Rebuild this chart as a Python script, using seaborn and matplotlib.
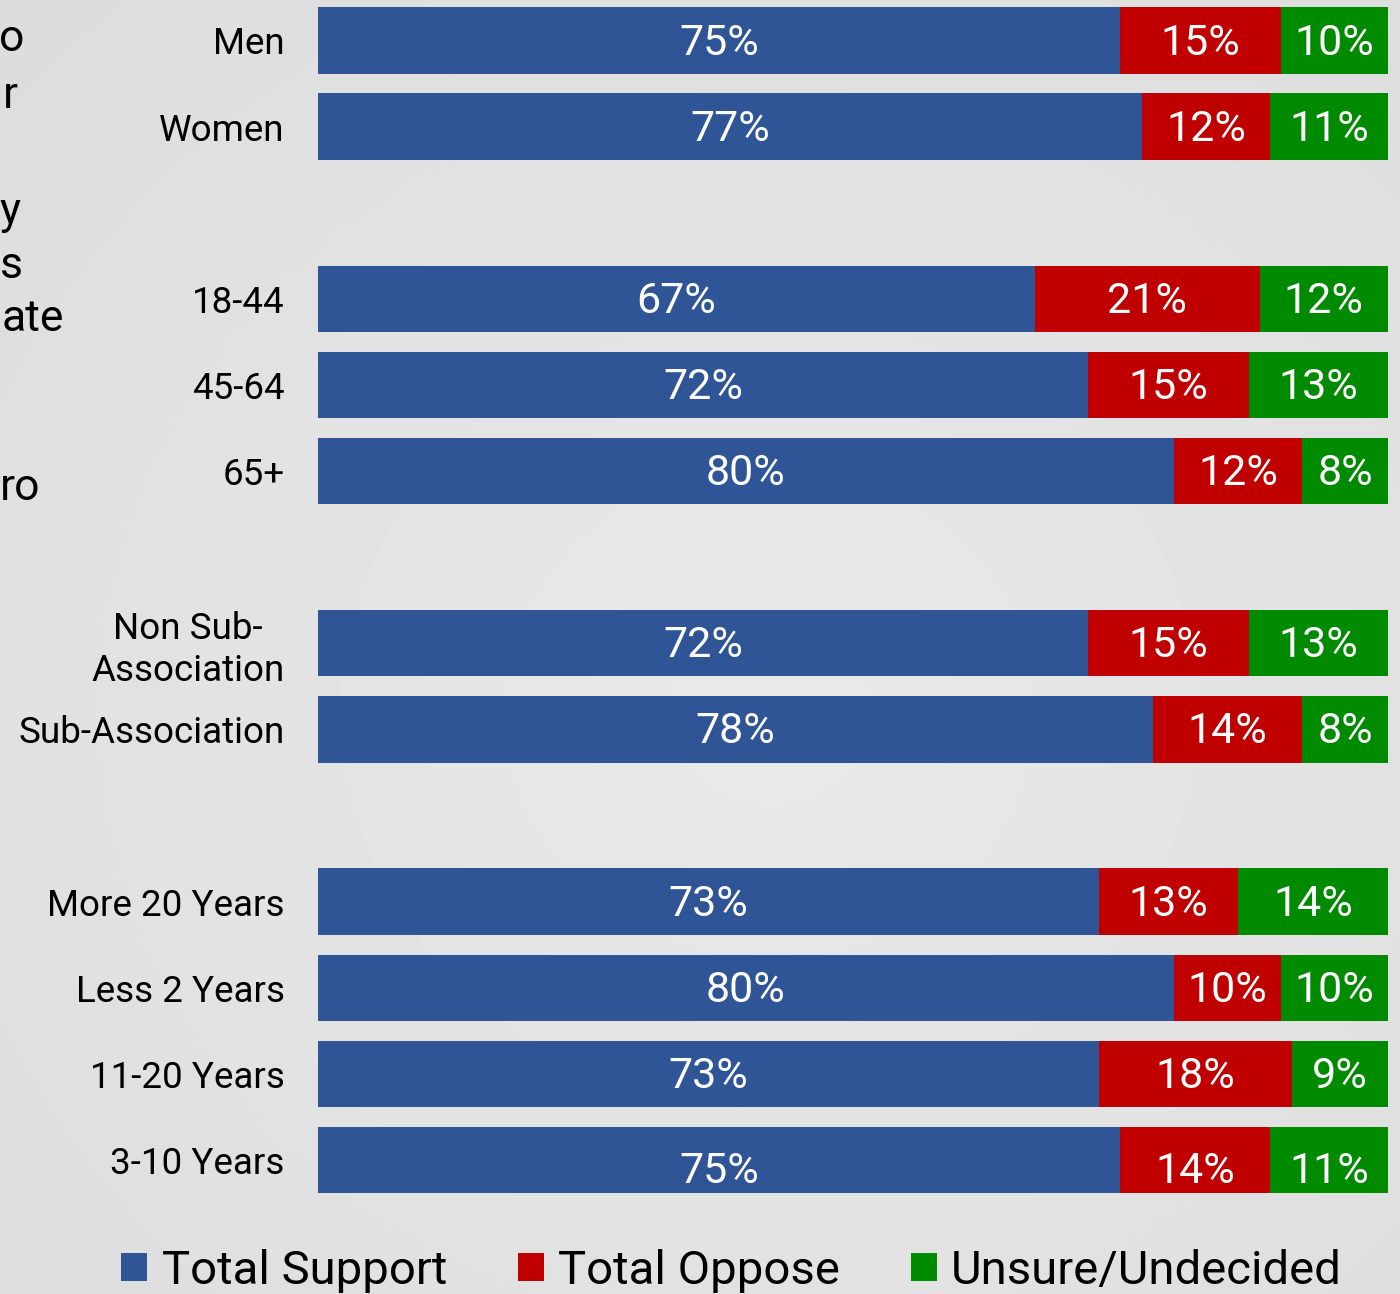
import numpy as np
import matplotlib
matplotlib.use("Agg")
import matplotlib.pyplot as plt
from matplotlib.patches import Patch
import seaborn as sns

# Data
groups = [
    ["Men", "Women"],
    ["18-44", "45-64", "65+"],
    ["Non Sub-\nAssociation", "Sub-Association"],
    ["More 20 Years", "Less 2 Years", "11-20 Years", "3-10 Years"],
]
support = [75, 77, 67, 72, 80, 72, 78, 73, 80, 73, 75]
oppose = [15, 12, 21, 15, 12, 15, 14, 13, 10, 18, 14]
unsure = [10, 11, 12, 13, 8, 13, 8, 14, 10, 9, 11]
series_names = ["Total Support", "Total Oppose", "Unsure/Undecided"]
# clipped text fragments visible at the left edge of the slide
fragments = ["o", "r", "y", "s", "ate", "ro"]

colors = ["#2F5597", "#C00000", "#008A00"]

sns.set_theme(style="white")
plt.rcParams["font.family"] = ["Roboto", "DejaVu Sans"]
plt.rcParams["text.color"] = "black"
plt.rcParams["ytick.color"] = "black"

# row positions with an empty slot between groups
labels, pos = [], []
y = 0
for g in groups:
    for name in g:
        labels.append(name)
        pos.append(y)
        y += 1
    y += 1

W, H = 1400, 1294
fig = plt.figure(figsize=(W / 100, H / 100), dpi=100)

# soft gray slide background
bg = fig.add_axes([0, 0, 1, 1], zorder=-10)
yy, xx = np.mgrid[0:1:300j, 0:1:320j]
r = np.sqrt(((xx - 0.55) / 0.9) ** 2 + ((yy - 0.55) / 0.9) ** 2)
bg.imshow(0.915 - 0.06 * r, cmap="gray", vmin=0, vmax=1, aspect="auto",
          extent=[0, 1, 0, 1])
bg.axis("off")

ax = fig.add_axes([318 / W, 1 - 1203 / H, 1070 / W, 1203 / H])
ax.patch.set_alpha(0)

cum_total = [s + o + u for s, o, u in zip(support, oppose, unsure)]
cum_so = [s + o for s, o in zip(support, oppose)]
for vals, c in zip([cum_total, cum_so, support], colors[::-1]):
    sns.barplot(x=vals, y=pos, orient="h", native_scale=True, color=c,
                saturation=1, width=0.77, linewidth=0, ax=ax)

for i, p in enumerate(pos):
    s, o, u = support[i], oppose[i], unsure[i]
    dy = 0.14 if labels[i] == "3-10 Years" else 0.03
    for left, val in [(0, s), (s, o), (s + o, u)]:
        ax.text(left + val / 2, p + dy, f"{val}%", ha="center", va="center",
                color="white", fontsize=31)

ax.set_xlim(0, 100)
ax.set_ylim(13.5, -0.47)
ax.set_yticks(pos)
ax.set_yticklabels(labels, fontsize=26.5, multialignment="center",
                   va="center_baseline")
ax.tick_params(axis="y", length=0, pad=24)
ax.set_xticks([])
ax.set_xlabel("")
ax.set_ylabel("")
sns.despine(ax=ax, left=True, bottom=True)

# fragments of cut-off text on the left edge (right end x, baseline y in px)
frag_xy = [(24, 51), (18, 108), (21, 224), (23, 278), (64, 331), (40, 500)]
for t, (fx, fy) in zip(fragments, frag_xy):
    fig.text(fx / W, 1 - fy / H, t, ha="right", va="baseline", fontsize=32)

handles = [Patch(facecolor=c, edgecolor="none") for c in colors]
fig.legend(handles, series_names, loc="center", bbox_to_anchor=(0.5225, 0.018),
           ncol=3, frameon=False, handlelength=0.55, handleheight=0.55,
           handletextpad=0.3, columnspacing=1.5, borderpad=0,
           prop={"size": 34})

fig.savefig("out.png", dpi=100)
